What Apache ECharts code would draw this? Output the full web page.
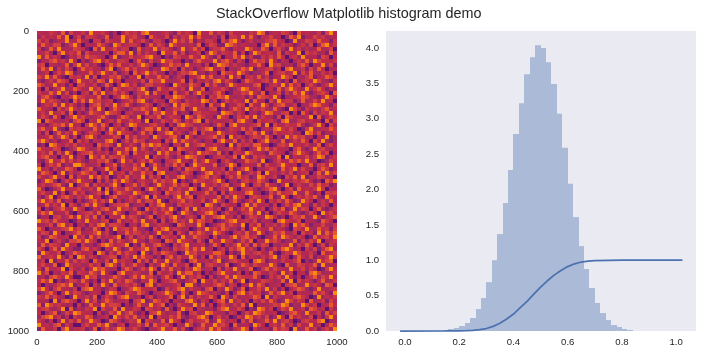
<!DOCTYPE html>
<html><head><meta charset="utf-8">
<style>html,body{margin:0;padding:0;background:#fff}#c{width:703px;height:354px}</style>
<script src="https://cdn.jsdelivr.net/npm/echarts@6/dist/echarts.min.js"></script>
</head><body><div id="c"></div>
<script>
const titleText = "StackOverflow Matplotlib histogram demo";
const imageTicks = [0,200,400,600,800,1000];
const histTicksX = [0,0.2,0.4,0.6,0.8,1.0];
const histTicksY = [0,0.5,1,1.5,2,2.5,3,3.5,4];
const binStarts = [0.14,0.16,0.18,0.20,0.22,0.24,0.26,0.28,0.30,0.32,0.34,0.36,0.38,0.40,0.42,0.44,0.46,0.48,0.50,0.52,0.54,0.56,0.58,0.60,0.62,0.64,0.66,0.68,0.70,0.72,0.74,0.76,0.78,0.80,0.82];
const binHeights = [0.014,0.028,0.042,0.07,0.113,0.184,0.31,0.466,0.69,1.0,1.37,1.81,2.275,2.784,3.22,3.63,3.87,4.04,4.0,3.80,3.49,3.07,2.59,2.08,1.61,1.20,0.876,0.608,0.396,0.254,0.155,0.085,0.056,0.028,0.014];
const curveX = [-0.018,0.15,0.2,0.225,0.25,0.275,0.30,0.325,0.35,0.375,0.40,0.425,0.45,0.475,0.50,0.525,0.55,0.575,0.60,0.625,0.65,0.675,0.70,0.75,0.80,1.023];
const curveY = [0,0.0005,0.002,0.004,0.008,0.019,0.035,0.066,0.11,0.17,0.24,0.33,0.42,0.52,0.62,0.71,0.79,0.855,0.91,0.95,0.975,0.988,0.995,0.999,1,1];
const imageRows = [
"534652817346295564130475628943356217465093482651744326598135476208453361794",
"263548390471665238144956732085347162659484325170663948215573402869134756234",
"746125593384206617543928457316620495738152664073895146233678540192476385516",
"485377126950434862197356640283751964335280476119863542407928365514627038946",
"612849433765108294573660182549376413925847036682154397428605731946252483370",
"357206946581743325068849172634095582713460397265481603974552816349075624183",
"928464015372866530491247356895302176448539621704385926116473850562934417605",
"143785629304158947326650483172596734021685439278516304867294153046382975546",
"670532481693725104858436269730145867294351602987463215584096723316850449271",
"485916273048564317902684735514298360725146893470325869134672508943617285034",
"236047598124483695271360846957320415768923154086649731225804673591748326460",
"759384106562917043768215490634857126304479582361947056382614497503268145873",
"314628750495362871946043527186694235807153628947510386446729315082564973216",
"862493515077436128305984612773541096428650837215964432780156392846057314695",
"507136924864295703186456379201854763619428035574126983360451827964293685142",
"643859271305618492574730266918345082471695326840153769528043716285931467508",
"278410536976354812046985173634206598742316065879423516187649302456873215964",
"495763120848296735601357489216430875163549826027465391843072956613824749350",
"136582947413057826394684125750263194875436082591347608429615783360247985416",
"854207369526174930485213768649502376814953267041586392657328410974163526835",
"462935718041386529764056234817695481320675543198726403315984267050841736592",
"375184026957424683115872390465813654097286341965027584926431708634259081476",
"908643251786053914628437561904275386164890725343618952074563189226745430817",
"241576839430697285046159843267340518976225413860794325681907436558312694073",
"683492107565328471963720615884926073541736890412653847103528964740169235586",
"517038264941476305829654138270358946216807354962541076839217455623098471346",
"345826971603895142476083725519634782095143568270936415762840319586724053912",
"796251438074615328940372866145507293864621430795381626047935281463850749213",
"120985364725340867519246318697843056192578346420917563884201675935462380574",
"854376012698523714063485927316264908753410689235746102596837442068315967325",
"463817295046782536149570834621958347026396752814065397442186530279641585703",
"578240639154096382765821453906347216598734015662480931756324809153472698146",
"216935847362154768203946157483205679341826954057312486629015743868594301275",
"604758132997423605581632749028516384702965438126970354281743695450238167493",
"935162487403681259470354862719543026187649325360814795032576184693742058614",
"387405916258736041925617348560892431675014893627459126380945263714560382957",
"742693508164295837016482539173606248953157826404738561298436107582913476340",
"159820374695340716284973156428375690412866357940231674586201943365784120869",
"463578219036817452693045827314962583760419536278145930672853149046327485612",
"820136945573462908175386240697154826349702581463920567314689205718453696034",
"574291603846125739048652973136408567291345826071654389420173856693284150767",
"316904785263794501682437516908235169478056343817296405763581294036475821953",
"695728134051268473905146382774910536826347159620583147295064738512964036284",
"248463907516839520367781245063894217566340982175430692843516027489351726405",
"703156842964015378429563710846275930481926573602814759436027581394760582136",
"586924371035672814596203486317458602973145896027341568291603754862137409575",
"134067258493728160543947621580362794156308247895516037642985130476823951468",
"967385420163945267018254739246071583629487350126894563713420896557034218640",
"425718936045163892776403518923654108735296014683752906481536274096851347326",
"850243679571328406195674832107489365240163957486231705964382541076493285617",
"376195024682457936104385762514923607418586239741056382495127683360745192858",
"612874350946183725469037156382076451923865407132694785610248397526401836749",
"549036217785964031827526943165308729654172083496512738043967512381627490356",
"283765194406231589745690318427851063792446138505269471837603254916385027164",
"740582963117846205396128457936024175683859240361758946205137489624063715892",
"196437025864350971628475309216487530196724358860412953674281036597346208457",
"825649317098264135770362948551306827439615082734960815326479165038527143696",
"360915482736508427195643082718429356107843526912675340897135264468021395780",
"574280196352473608961725843062596183470391675238014862753496108327645819234",
"618345907426159783240586137496073825164982350716493258016837542945726301695",
"937042658165386294107943652280734619588260413795326041874265193604518972346",
"241786395004967132586315849672158403926574061348297655830164729415036827593",
"586903147628514073926487215396045782136809537264815903247652381907463158246",
"403257869134706295183564720891632457099215346871650439286143506782395641870",
"795168342607893412650237985446017358926341780529613804573926150468721493256",
"126840593762145306984175386203569741820497635216048937561284793605342857419",
"658374201953628047516893240571435806917263584096172345870916325478630192546",
"342091786405937158624350679128746053289516404781936250637485129736508246173",
"819756423061284395776041583294680317542938160475263819042357698132974603585",
"467325908142659073381924650763518204967053241689347502198460375924618735062",
"503681274985430612759268314067952438106724985331650274986345012785294361847",
"278946150633871245096473825190634758213589604725016398462713950846327051694",
"641503927482596301874136590752281964037456812963540728135849267301675489023",
"935278164005743869215604372818567403296128439675082341974056382617439250486",
"184360792556128047369825741034693582710467295843156970623418576092384615739"
];

const palette = ["#5c126e","#85206a","#a02a5e","#ad2a58","#b5274f","#bd2d4b","#c63646","#d2403f","#e8592b","#f98c0a"];
const axisFont = {color:"#262626",fontSize:9.6,fontFamily:"Liberation Sans"};
const cellSize = 1000/imageRows.length;
const cells = [];
imageRows.forEach((row,r)=>{ [...row].forEach((d,c)=>cells.push([c*cellSize,r*cellSize,+d])); });
const bins = binStarts.map((s,i)=>[s,s+0.02,binHeights[i]]);

const chart = echarts.init(document.getElementById("c"),null,{renderer:"canvas"});
chart.setOption({
  animation:false,
  backgroundColor:"#fff",
  title:{text:titleText,left:211,top:2,textStyle:{fontFamily:"Liberation Sans",fontSize:14.4,fontWeight:"normal",color:"#262626"}},
  grid:[
    {left:37,top:31,width:300,height:300,show:true,backgroundColor:"#b5274f",borderWidth:0},
    {left:386,top:31,width:310,height:300,show:true,backgroundColor:"#EAEAF2",borderWidth:0}
  ],
  xAxis:[
    {gridIndex:0,type:"value",min:0,max:1000,splitLine:{show:false},axisLine:{show:false},axisTick:{show:false},
     axisLabel:{...axisFont,margin:6,customValues:imageTicks,formatter:v=>String(v)}},
    {gridIndex:1,type:"value",min:-0.07,max:1.073,splitLine:{show:false},axisLine:{show:false},axisTick:{show:false},
     axisLabel:{...axisFont,margin:6,customValues:histTicksX,formatter:v=>v.toFixed(1)}}
  ],
  yAxis:[
    {gridIndex:0,type:"value",min:0,max:1000,inverse:true,splitLine:{show:false},axisLine:{show:false},axisTick:{show:false},
     axisLabel:{...axisFont,margin:8,customValues:imageTicks,formatter:v=>String(v)}},
    {gridIndex:1,type:"value",min:0,max:4.24,splitLine:{show:false},axisLine:{show:false},axisTick:{show:false},
     axisLabel:{...axisFont,margin:7,customValues:histTicksY,formatter:v=>v.toFixed(1)}}
  ],
  series:[
    {type:"custom",xAxisIndex:0,yAxisIndex:0,data:cells,silent:true,
     renderItem:(p,api)=>{
       const a=api.coord([api.value(0),api.value(1)]);
       const b=api.coord([api.value(0)+cellSize,api.value(1)+cellSize]);
       return {type:"rect",shape:{x:a[0],y:a[1],width:b[0]-a[0],height:b[1]-a[1]},style:{fill:palette[api.value(2)]}};
     }},
    {type:"custom",xAxisIndex:1,yAxisIndex:1,data:bins,silent:true,
     renderItem:(p,api)=>{
       const a=api.coord([api.value(0),api.value(2)]);
       const b=api.coord([api.value(1),0]);
       const x0=Math.round(a[0]), x1=Math.round(b[0]);
       return {type:"rect",shape:{x:x0,y:a[1],width:x1-x0,height:b[1]-a[1]},style:{fill:"#ABBAD6"}};
     }},
    {type:"line",xAxisIndex:1,yAxisIndex:1,data:curveX.map((x,i)=>[x,curveY[i]]),smooth:false,symbol:"none",
     lineStyle:{color:"#4C72B0",width:1.75},z:5}
  ]
});
</script></body></html>
